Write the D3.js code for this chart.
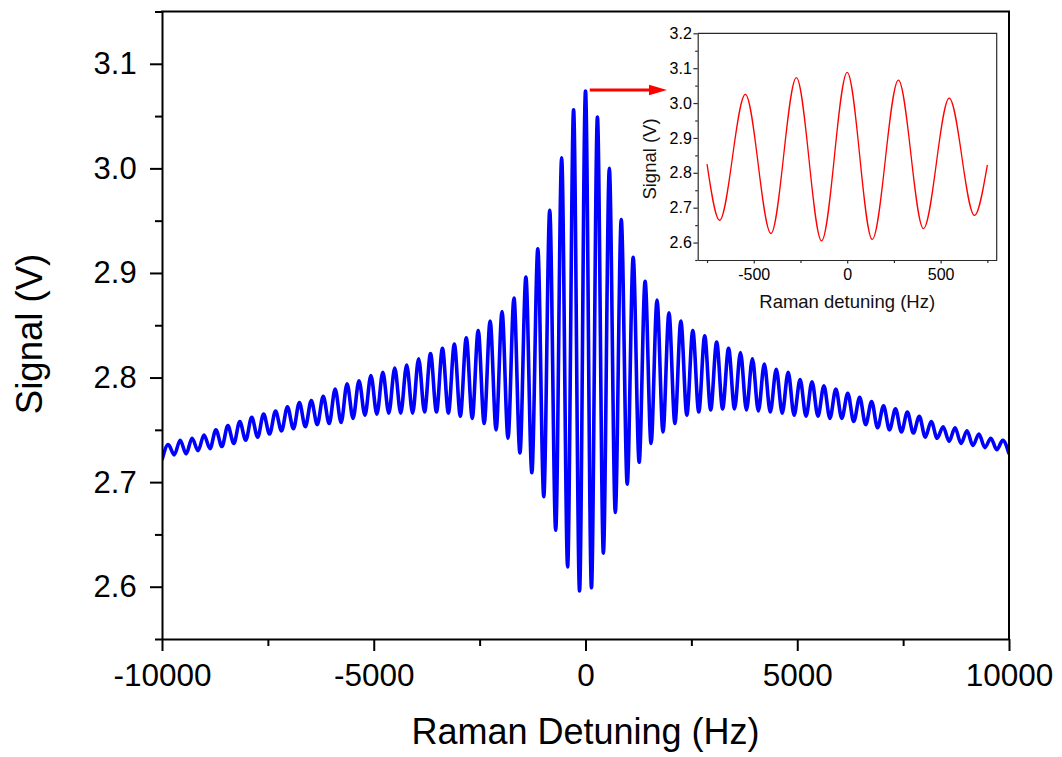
<!DOCTYPE html>
<html>
<head>
<meta charset="utf-8">
<script src="https://cdn.jsdelivr.net/npm/d3@7"></script>
<style>
  html, body { margin: 0; padding: 0; background: #fff; }
  svg { display: block; font-family: "Liberation Sans", Arial, sans-serif; }
</style>
</head>
<body>
<svg id="chart" width="1062" height="757"></svg>
<script>
// ---------------- DATA ----------------
// Main plot axes
const xMajorTicks = [-10000, -5000, 0, 5000, 10000];
const xMinorTicks = [-7500, -2500, 2500, 7500];
const yMajorTicks = [2.6, 2.7, 2.8, 2.9, 3.0, 3.1];
const yMinorTicks = [2.55, 2.65, 2.75, 2.85, 2.95, 3.05, 3.15];

// Fringe spacing of the main scan (Hz)
const fringeSpacing = 281.5;
// Fringe maxima, from the fringe at -35 spacings to +35 spacings (centre fringe at 0 Hz)
const peakValues = [
  2.736, 2.740, 2.742, 2.745, 2.750, 2.754, 2.758, 2.762, 2.765, 2.768,
  2.772, 2.776, 2.778, 2.782, 2.789, 2.794, 2.797, 2.802, 2.805, 2.809,
  2.812, 2.818, 2.823, 2.828, 2.832, 2.838, 2.845, 2.854, 2.863, 2.876,
  2.896, 2.923, 2.960, 3.010, 3.056, 3.074, 3.049, 3.000, 2.951, 2.915,
  2.892, 2.874, 2.862, 2.854, 2.845, 2.840, 2.834, 2.828, 2.824, 2.818,
  2.813, 2.808, 2.805, 2.798, 2.796, 2.792, 2.789, 2.785, 2.781, 2.777,
  2.773, 2.770, 2.767, 2.763, 2.758, 2.753, 2.752, 2.749, 2.746, 2.742,
  2.740
];
// Fringe minima, from -35.5 spacings to +35.5 spacings
const troughValues = [
  2.722, 2.726, 2.727, 2.730, 2.732, 2.734, 2.737, 2.740, 2.743, 2.746,
  2.749, 2.751, 2.753, 2.755, 2.756, 2.757, 2.761, 2.764, 2.765, 2.766,
  2.766, 2.766, 2.767, 2.767, 2.766, 2.763, 2.761, 2.756, 2.750, 2.742,
  2.728, 2.709, 2.686, 2.654, 2.619, 2.596, 2.599, 2.632, 2.671, 2.698,
  2.719, 2.737, 2.748, 2.756, 2.764, 2.767, 2.769, 2.770, 2.770, 2.769,
  2.768, 2.767, 2.766, 2.764, 2.763, 2.763, 2.761, 2.761, 2.758, 2.755,
  2.752, 2.750, 2.748, 2.747, 2.743, 2.742, 2.739, 2.737, 2.735, 2.733,
  2.731, 2.728
];

// Inset (zoomed scan around 0 Hz): extrema
const insetDetuning = [-750, -683, -545, -408, -272, -137, 0, 134, 274, 408, 546, 681, 750];
const insetSignal   = [2.825, 2.664, 3.025, 2.626, 3.073, 2.605, 3.088, 2.609, 3.066, 2.640, 3.014, 2.678, 2.823];
const insetXMajor = [-500, 0, 500];
const insetXMinor = [-750, -250, 250, 750];
const insetYMajor = [2.6, 2.7, 2.8, 2.9, 3.0, 3.1, 3.2];
const insetYMinor = [2.55, 2.65, 2.75, 2.85, 2.95, 3.05, 3.15];

const labels = {
  x: "Raman Detuning (Hz)",
  y: "Signal (V)",
  insetX: "Raman detuning (Hz)",
  insetY: "Signal (V)"
};

// ---------------- BUILD ----------------
const svg = d3.select("#chart");
const intFmt = d => String(Math.round(d));      // hyphen-minus, as in the original
const oneDec = d => d.toFixed(1);

// main area
const M = { left: 162, right: 1009, top: 11.5, bottom: 639 };
const x = d3.scaleLinear().domain([-10000, 10000]).range([M.left, M.right]);
const y = d3.scaleLinear().domain([2.55, 3.15]).range([M.bottom, M.top]);

// merge extrema into one ordered series
const mainSeries = [];
troughValues.forEach((v, i) => {
  mainSeries.push({ f: (i - 35.5) * fringeSpacing, v });
  if (i < peakValues.length) mainSeries.push({ f: (i - 35) * fringeSpacing, v: peakValues[i] });
});

svg.append("defs").append("clipPath").attr("id", "clipMain")
  .append("rect").attr("x", M.left).attr("y", M.top)
  .attr("width", M.right - M.left).attr("height", M.bottom - M.top);

const lineMain = d3.line().x(d => x(d.f)).y(d => y(d.v)).curve(d3.curveMonotoneX);
svg.append("path").datum(mainSeries)
  .attr("clip-path", "url(#clipMain)")
  .attr("d", lineMain)
  .attr("fill", "none").attr("stroke", "#0000ff")
  .attr("stroke-width", 3.6).attr("stroke-linejoin", "round").attr("stroke-linecap", "round");

// axes styling helper
function styleAxis(g, color, width, fontSize) {
  g.selectAll("path, line").attr("stroke", color).attr("stroke-width", width);
  g.selectAll("text").attr("fill", "#000").style("font-size", fontSize + "px")
    .style("font-family", '"Liberation Sans", Arial, sans-serif');
}

// minor ticks
const gxMin = svg.append("g").attr("transform", `translate(0,${M.bottom})`)
  .call(d3.axisBottom(x).tickValues(xMinorTicks).tickSize(7).tickSizeOuter(0).tickFormat(""));
gxMin.select(".domain").remove();
styleAxis(gxMin, "#000", 2, 31);
const gyMin = svg.append("g").attr("transform", `translate(${M.left},0)`)
  .call(d3.axisLeft(y).tickValues(yMinorTicks).tickSize(7).tickSizeOuter(0).tickFormat(""));
gyMin.select(".domain").remove();
styleAxis(gyMin, "#000", 2, 31);

// major axes
const gx = svg.append("g").attr("transform", `translate(0,${M.bottom})`)
  .call(d3.axisBottom(x).tickValues(xMajorTicks).tickSize(12).tickSizeOuter(0).tickPadding(12.3).tickFormat(intFmt));
styleAxis(gx, "#000", 2, 31.5);
const gy = svg.append("g").attr("transform", `translate(${M.left},0)`)
  .call(d3.axisLeft(y).tickValues(yMajorTicks).tickSize(12).tickSizeOuter(0).tickPadding(13.3).tickFormat(oneDec));
styleAxis(gy, "#000", 2, 31);

// top and right frame
svg.append("line").attr("x1", M.left - 1).attr("x2", M.right + 1).attr("y1", M.top).attr("y2", M.top)
  .attr("stroke", "#000").attr("stroke-width", 2);
svg.append("line").attr("x1", M.right).attr("x2", M.right).attr("y1", M.top).attr("y2", M.bottom)
  .attr("stroke", "#000").attr("stroke-width", 2);

// axis titles
svg.append("text").attr("x", (M.left + M.right) / 2).attr("y", 744)
  .attr("text-anchor", "middle").style("font-size", "36px").text(labels.x);
svg.append("text").attr("transform", "translate(42,334) rotate(-90)")
  .attr("text-anchor", "middle").style("font-size", "36.5px").text(labels.y);

// ---------------- INSET ----------------
const I = { left: 697.7, right: 996.7, top: 33.3, bottom: 260 };
const xi = d3.scaleLinear().domain([-800, 800]).range([I.left, I.right]);
const yi = d3.scaleLinear().domain([2.55, 3.2]).range([I.bottom, I.top]);

svg.append("rect").attr("x", I.left).attr("y", I.top)
  .attr("width", I.right - I.left).attr("height", I.bottom - I.top)
  .attr("fill", "#fff");

const insetSeries = insetDetuning.map((f, i) => ({ f, v: insetSignal[i] }));
const lineInset = d3.line().x(d => xi(d.f)).y(d => yi(d.v)).curve(d3.curveMonotoneX);
svg.append("path").datum(insetSeries)
  .attr("d", lineInset)
  .attr("fill", "none").attr("stroke", "#ff0000").attr("stroke-width", 1.3);

const insetColor = "#2a2a2a";
const gxiMin = svg.append("g").attr("transform", `translate(0,${I.bottom})`)
  .call(d3.axisBottom(xi).tickValues(insetXMinor).tickSize(3).tickSizeOuter(0).tickFormat(""));
gxiMin.select(".domain").remove();
styleAxis(gxiMin, insetColor, 1.2, 16);
const gyiMin = svg.append("g").attr("transform", `translate(${I.left},0)`)
  .call(d3.axisLeft(yi).tickValues(insetYMinor).tickSize(2.5).tickSizeOuter(0).tickFormat(""));
gyiMin.select(".domain").remove();
styleAxis(gyiMin, insetColor, 1.2, 16);

const gxi = svg.append("g").attr("transform", `translate(0,${I.bottom})`)
  .call(d3.axisBottom(xi).tickValues(insetXMajor).tickSize(3.5).tickSizeOuter(0).tickPadding(4.8).tickFormat(intFmt));
styleAxis(gxi, insetColor, 1.2, 16);
const gyi = svg.append("g").attr("transform", `translate(${I.left},0)`)
  .call(d3.axisLeft(yi).tickValues(insetYMajor).tickSize(4.3).tickSizeOuter(0).tickPadding(1.6).tickFormat(oneDec));
styleAxis(gyi, insetColor, 1.2, 16);

// inset frame top/right
svg.append("path")
  .attr("d", `M${I.left},${I.top}H${I.right}V${I.bottom}`)
  .attr("fill", "none").attr("stroke", insetColor).attr("stroke-width", 1.2);

// inset titles
svg.append("text").attr("x", (I.left + I.right) / 2).attr("y", 308)
  .attr("text-anchor", "middle").style("font-size", "18.5px").attr("fill", "#111").text(labels.insetX);
svg.append("text").attr("transform", "translate(656,159) rotate(-90)")
  .attr("text-anchor", "middle").style("font-size", "18.5px").attr("fill", "#111").text(labels.insetY);

// ---------------- ARROW ----------------
const arrowY = y(3.075);
const arrowStart = x(100);
const arrowTip = 667;
svg.append("line").attr("x1", arrowStart).attr("x2", arrowTip - 14).attr("y1", arrowY).attr("y2", arrowY)
  .attr("stroke", "#ff0000").attr("stroke-width", 3);
svg.append("path")
  .attr("d", `M${arrowTip},${arrowY}L${arrowTip - 18},${arrowY - 5.2}L${arrowTip - 18},${arrowY + 5.2}Z`)
  .attr("fill", "#ff0000");
</script>
</body>
</html>
